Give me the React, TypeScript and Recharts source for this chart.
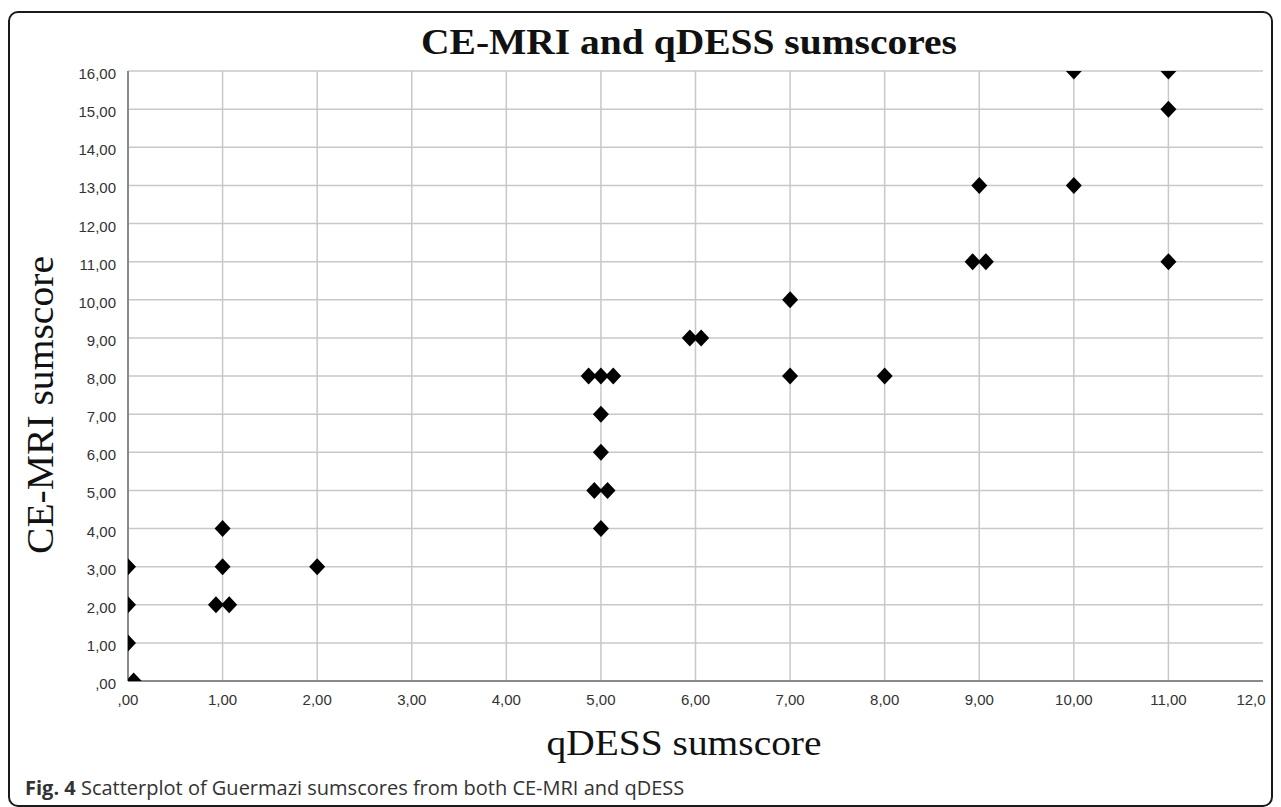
import { CartesianGrid, Scatter, ScatterChart, XAxis, YAxis } from "recharts"

// qDESS sumscore (x) vs CE-MRI sumscore (y), jittered like the SPSS output
const qdessScores = [
  0, 0, 0, 0.06,
  1, 1, 0.93, 1.07, 2,
  4.87, 5, 5.13, 5, 5, 4.93, 5.07, 5,
  5.94, 6.06, 7, 7, 8,
  8.93, 9.07, 9, 10, 10, 11, 11, 11,
]
const ceMriScores = [
  1, 2, 3, 0,
  4, 3, 2, 2, 3,
  8, 8, 8, 7, 6, 5, 5, 4,
  9, 9, 10, 8, 8,
  11, 11, 13, 16, 13, 16, 15, 11,
]

const xTicks = [0, 1, 2, 3, 4, 5, 6, 7, 8, 9, 10, 11, 12]
const yTicks = [0, 1, 2, 3, 4, 5, 6, 7, 8, 9, 10, 11, 12, 13, 14, 15, 16]
const xGridValues = [1, 2, 3, 4, 5, 6, 7, 8, 9, 10, 11]
const yGridValues = [1, 2, 3, 4, 5, 6, 7, 8, 9, 10, 11, 12, 13, 14, 15, 16]

const points = qdessScores.map((x, i) => ({ x, y: ceMriScores[i] }))

// SPSS style: "5,00", ",00"
const fmt = (v: number) => {
  const s = v.toFixed(2).replace(".", ",")
  return v === 0 ? s.slice(1) : s
}

const tickFont = "'Liberation Sans', Arial, sans-serif"

const XTick = (props: any) => {
  const { x, y, payload } = props
  // the last label is cut off in the original
  const last = payload.value === 12
  return (
    <text
      x={last ? x - 12 : x}
      y={y + 22}
      textAnchor="middle"
      fontFamily={tickFont}
      fontSize={15}
      fill="#333"
    >
      {last ? "12,0" : fmt(payload.value)}
    </text>
  )
}

const YTick = (props: any) => {
  const { x, y, payload } = props
  return (
    <text
      x={x - 10}
      y={y + 8}
      textAnchor="end"
      fontFamily={tickFont}
      fontSize={15}
      fill="#333"
    >
      {fmt(payload.value)}
    </text>
  )
}

const Diamond = (props: any) => {
  const { cx, cy } = props
  return (
    <path
      d={`M${cx},${cy - 8.5}L${cx + 8},${cy}L${cx},${cy + 8.5}L${cx - 8},${cy}Z`}
      fill="#000"
    />
  )
}

export default function App() {
  return (
    <div
      style={{
        position: "absolute",
        left: 0,
        top: 0,
        width: 1281,
        height: 807,
        background: "#fff",
      }}
    >
      <ScatterChart
        width={1281}
        height={807}
        margin={{ top: 71, right: 18, left: 0, bottom: 0 }}
      >
        <CartesianGrid
          stroke="#c8c8c8"
          strokeWidth={1.5}
          horizontalValues={yGridValues}
          verticalValues={xGridValues}
        />
        <XAxis
          type="number"
          dataKey="x"
          domain={[0, 12]}
          ticks={xTicks}
          allowDataOverflow
          height={126}
          tickSize={0}
          tickLine={false}
          tick={<XTick />}
          axisLine={{ stroke: "#8a8a8a", strokeWidth: 2 }}
          interval={0}
        />
        <YAxis
          type="number"
          dataKey="y"
          domain={[0, 16]}
          ticks={yTicks}
          allowDataOverflow
          width={128}
          tickSize={0}
          tickLine={false}
          tick={<YTick />}
          axisLine={{ stroke: "#8a8a8a", strokeWidth: 2 }}
          interval={0}
        />
        <Scatter data={points} shape={<Diamond />} isAnimationActive={false} />
      </ScatterChart>
      <svg
        width={1281}
        height={807}
        style={{ position: "absolute", left: 0, top: 0, pointerEvents: "none" }}
      >
        <rect
          x={9}
          y={12}
          width={1263}
          height={794}
          rx={9}
          fill="none"
          stroke="#1a1a1a"
          strokeWidth={2}
        />
        <text
          x={689}
          y={54}
          textAnchor="middle"
          fontFamily="'Liberation Serif', 'Times New Roman', serif"
          fontWeight="bold"
          fontSize={36}
          textLength={536}
          lengthAdjust="spacingAndGlyphs"
          fill="#111"
        >
          CE-MRI and qDESS sumscores
        </text>
        <text
          x={684}
          y={755}
          textAnchor="middle"
          fontFamily="'Liberation Serif', 'Times New Roman', serif"
          fontSize={36}
          textLength={275}
          lengthAdjust="spacingAndGlyphs"
          fill="#111"
        >
          qDESS sumscore
        </text>
        <text
          transform="translate(53,405) rotate(-90)"
          textAnchor="middle"
          fontFamily="'Liberation Serif', 'Times New Roman', serif"
          fontSize={38}
          textLength={298}
          lengthAdjust="spacingAndGlyphs"
          fill="#111"
        >
          CE-MRI sumscore
        </text>
        <text
          x={25}
          y={795}
          fontFamily="'Open Sans', 'Noto Sans', sans-serif"
          fontSize={20}
          fill="#333"
        >
          <tspan fontWeight="bold" fill="#333">Fig. 4</tspan>
          <tspan> Scatterplot of Guermazi sumscores from both CE-MRI and qDESS</tspan>
        </text>
      </svg>
    </div>
  )
}
